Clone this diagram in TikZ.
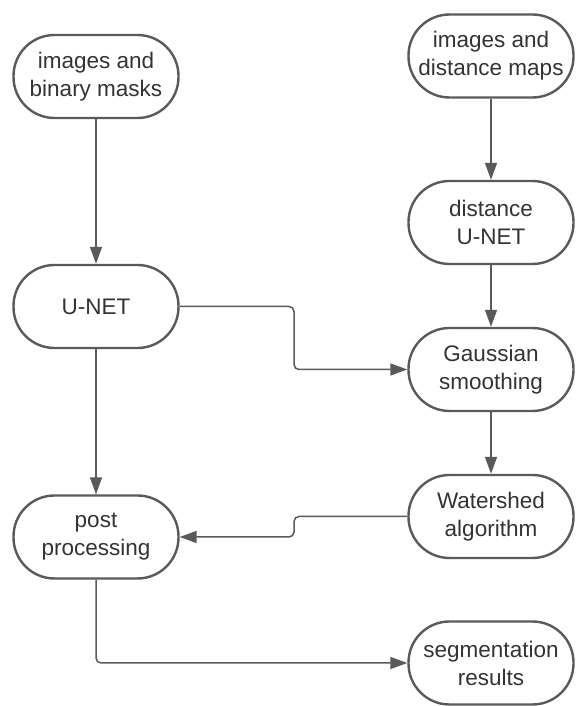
\documentclass[tikz,border=0pt]{standalone}
\usepackage{fontspec}
\setmainfont{Liberation Sans}
\usetikzlibrary{arrows.meta}
\definecolor{linegray}{HTML}{5A5A5A}
\definecolor{textgray}{HTML}{333333}

\begin{document}
\begin{tikzpicture}[x=1pt, y=1pt, >={Triangle[length=17pt,width=12pt]},
    stage/.style={draw=linegray, line width=2.4pt, rounded corners=41pt,
      minimum width=165pt, minimum height=83pt, inner sep=0pt, align=center,
      text=textgray, font=\fontsize{22.5}{28}\selectfont},
    flow/.style={->, draw=linegray, line width=1.5pt, rounded corners=5pt}]
    \useasboundingbox (0,0) rectangle (576,706);
    % left column
    \node[stage] (imgmask) at (96,629.5) {images and\\binary masks};
    \node[stage] (unet) at (96,399.5) {U-NET};
    \node[stage] (post) at (96,169) {post\\processing};
    % right column
    \node[stage] (imgdist) at (491,650) {images and\\distance maps};
    \node[stage] (dunet) at (491,483.5) {distance\\U-NET};
    \node[stage] (gauss) at (491,336.5) {Gaussian\\smoothing};
    \node[stage] (water) at (491,189.5) {Watershed\\algorithm};
    \node[stage] (segres) at (491,43) {segmentation\\results};
    \coordinate (bend) at (294,0);
    % connectors
    \draw[flow] (imgmask) -- (unet);
    \draw[flow] (unet) -- (post);
    \draw[flow] (imgdist) -- (dunet);
    \draw[flow] (dunet) -- (gauss);
    \draw[flow] (gauss) -- (water);
    \draw[flow] (unet.east) -| (bend |- gauss.west) -- (gauss.west);
    \draw[flow] (water.west) -| (bend |- post.east) -- (post.east);
    \draw[flow] (post.south) |- (segres.west);
\end{tikzpicture}
\end{document}
